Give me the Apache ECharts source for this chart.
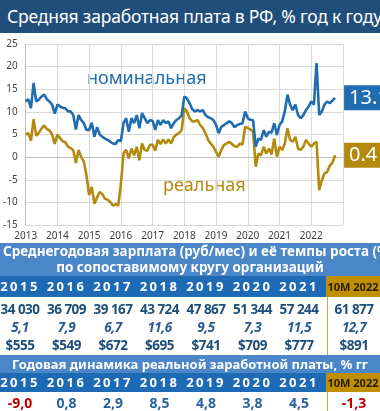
<!DOCTYPE html>
<html><head><meta charset="utf-8">
<script src="https://cdn.jsdelivr.net/npm/echarts@6/dist/echarts.min.js"></script>
<style>
html,body{margin:0;padding:0;background:#fff;}
body{width:380px;height:411px;overflow:hidden;position:relative;font-family:"Noto Sans",sans-serif;}
.abs{position:absolute;white-space:nowrap;}
#title{left:0;top:0;width:380px;height:33px;background:#1F4E7A;color:#fff;font-size:17.5px;line-height:33px;padding-left:7px;box-sizing:border-box;letter-spacing:-0.2px;}
#chart{left:0;top:33px;width:380px;height:210px;}
.band{left:0;width:380px;background:#4A86C8;color:#fff;font-weight:bold;}
.yrow{left:0;width:380px;background:#1E6AB4;}
.cell{position:absolute;text-align:center;width:48px;top:0;}
.gold{position:absolute;left:326px;width:54px;top:0;background:#BF8F00;color:#2b2000;font-weight:bold;font-size:11px;text-align:center;}
.sep{position:absolute;left:327px;width:1px;background:#C9A646;}
</style>
</head><body>
<div id="title" class="abs">Средняя заработная плата в РФ, % год к году</div>
<div id="chart" class="abs"></div>
<div id="band1" class="abs band" style="top:243px;height:33px;font-size:13.5px;">
  <div class="abs" style="left:3px;top:0px;line-height:17px;">Среднегодовая зарплата (руб/мес) и её темпы роста (% гг</div>
  <div class="abs" style="left:0;width:380px;text-align:center;top:16px;line-height:17px;">по сопоставимому кругу организаций</div>
</div>
<div id="hdr1" class="abs yrow" style="top:276px;height:21px;"></div>
<div id="rows1" class="abs" style="left:0;top:297px;width:380px;height:58px;"></div>
<div id="band2" class="abs band" style="top:355px;height:18px;font-size:13px;line-height:18px;text-align:center;">Годовая динамика реальной заработной платы, % гг</div>
<div id="hdr2" class="abs yrow" style="top:373px;height:19px;"></div>
<div id="rows2" class="abs" style="left:0;top:392px;width:380px;height:19px;"></div>
<script>
// ---- Data ----
const startYear = 2013;
const nominal = [
  12.3,12.8,10.8,16.4,12.3,12.7,13.4,13.8,12.8,12.3,11.6,9.6,
  11.6,11.2,10.9,10.8,10.1,10.1,9.3,6.1,9.3,8.2,7.5,6.0,
  6.0,7.6,4.5,6.6,5.0,4.5,4.1,3.8,3.4,3.0,2.9,3.8,
  3.5,7.5,8.6,5.6,8.6,7.5,9.3,6.4,9.7,8.6,7.5,8.2,
  8.0,6.0,8.2,7.1,8.2,7.5,7.9,6.4,7.5,8.2,8.6,9.3,
  13.4,13.0,11.9,10.6,10.1,10.4,10.1,10.4,9.3,8.8,8.6,8.2,
  7.1,5.3,6.7,7.1,7.5,7.9,7.5,6.6,7.1,7.3,7.5,10.1,
  8.6,8.2,8.2,2.3,4.1,3.8,6.0,4.5,5.6,5.4,7.5,4.9,
  7.1,7.9,10.1,13.8,11.6,10.4,11.6,9.3,8.6,9.3,10.4,11.2,
  12.3,11.6,20.8,9.3,10.1,11.6,12.3,11.9,12.5,13.1
];
const real = [
  5.0,5.3,3.6,8.4,4.7,5.4,6.3,7.0,6.2,5.9,5.0,2.9,
  5.0,4.2,3.5,3.3,2.3,2.0,1.5,-1.3,1.6,0.0,-1.0,-4.0,
  -8.4,-6.6,-10.3,-8.9,-7.7,-8.2,-9.2,-9.4,-9.9,-10.7,-10.4,-10.7,
  -6.1,0.8,1.6,-0.3,1.9,0.4,2.3,-0.7,3.0,1.6,1.4,2.7,
  2.8,1.4,3.8,2.9,3.9,3.0,3.9,3.0,4.4,5.0,5.3,6.0,
  10.8,10.1,8.6,7.9,7.9,8.2,7.1,6.4,5.3,3.8,3.0,2.3,
  1.1,0.1,1.6,2.7,3.0,3.4,2.9,2.4,2.3,3.0,2.8,6.7,
  6.4,6.1,5.6,-2.1,0.8,0.4,2.3,0.8,1.9,0.6,4.1,0.1,
  2.3,1.6,3.0,6.4,3.8,3.4,4.5,1.9,1.6,2.3,3.8,3.0,
  2.3,3.0,3.4,-7.3,-5.1,-3.6,-3.3,-1.9,-1.2,0.4
];
const yearTicks = [2013,2014,2015,2016,2017,2018,2019,2020,2021,2022];
const tableYears = ['2015','2016','2017','2018','2019','2020','2021'];
const lastPeriod = '10M 2022';
const wageRub = ['34 030','36 709','39 167','43 724','47 867','51 344','57 244'];
const wageRubLast = '61 877';
const wageGrowth = ['5,1','7,9','6,7','11,6','9,5','7,3','11,5'];
const wageGrowthLast = '12,7';
const wageUsd = ['$555','$549','$672','$695','$741','$709','$777'];
const wageUsdLast = '$891';
const realGrowth = ['-9,0','0,8','2,9','8,5','4,8','3,8','4,5'];
const realGrowthLast = '-1,3';
const labelNominal = 'номинальная';
const labelReal = 'реальная';

// ---- Chart ----
const BLUE = '#1F6DB0', GOLD = '#B38A0E';
const toPairs = arr => arr.map((v, i) => [startYear + i / 12, v]);
const chart = echarts.init(document.getElementById('chart'), null, {renderer: 'canvas'});
const endLab = (col) => ({
  show: true,
  formatter: p => p.value[1].toFixed(1),
  color: '#fff', backgroundColor: col, fontSize: 20, fontFamily: 'Noto Sans',
  padding: [1, 6, 1, 5], lineHeight: 23, distance: 9
});
chart.setOption({
  animation: false,
  textStyle: {fontFamily: 'Noto Sans'},
  grid: {left: 25, right: 37, top: 11, bottom: 18},
  xAxis: {
    type: 'value', min: 2013, max: 2023, interval: 1,
    axisLine: {show: true, lineStyle: {color: '#bfbfbf'}},
    axisTick: {show: false},
    splitLine: {show: true, lineStyle: {color: '#d9d9d9'}},
    axisLabel: {fontSize: 10, color: '#404040', margin: 6,
      formatter: v => yearTicks.indexOf(v) >= 0 ? String(v) : ''}
  },
  yAxis: {
    type: 'value', min: -15, max: 25, interval: 5,
    axisLine: {show: true, lineStyle: {color: '#bfbfbf'}},
    axisTick: {show: false},
    splitLine: {show: true, lineStyle: {color: '#d9d9d9'}},
    axisLabel: {fontSize: 10, color: '#404040', margin: 8}
  },
  graphic: [
    {type: 'text', left: 87, top: 37, style: {text: labelNominal, fill: BLUE, fontSize: 18, fontFamily: 'Noto Sans'}},
    {type: 'text', left: 163, top: 144, style: {text: labelReal, fill: GOLD, fontSize: 18, fontFamily: 'Noto Sans'}}
  ],
  series: [
    {type: 'line', data: toPairs(real), showSymbol: false, lineStyle: {color: GOLD, width: 2.6}, itemStyle: {color: GOLD}, endLabel: endLab(GOLD), clip: false},
    {type: 'line', data: toPairs(nominal), showSymbol: false, lineStyle: {color: BLUE, width: 2.6}, itemStyle: {color: BLUE}, endLabel: endLab(BLUE), clip: false}
  ]
});

// ---- Tables ----
const colCenter = i => 20 + i * 46.5;
function cell(txt, i, style) {
  const d = document.createElement('div');
  d.className = 'cell';
  d.style.left = (colCenter(i) - 24) + 'px';
  d.textContent = txt;
  Object.assign(d.style, style || {});
  return d;
}
function header(el, h) {
  tableYears.forEach((y, i) => el.appendChild(cell(y, i, {color: '#fff', fontWeight: 'bold', fontSize: '13px', letterSpacing: '2.5px', lineHeight: h + 'px', height: h + 'px'})));
  const g = document.createElement('div');
  g.className = 'gold'; g.style.height = h + 'px'; g.style.lineHeight = h + 'px';
  g.textContent = lastPeriod; el.appendChild(g);
}
header(document.getElementById('hdr1'), 21);
header(document.getElementById('hdr2'), 19);
const r1 = document.getElementById('rows1');
const numStyle = {fontWeight: 'bold', fontSize: '13.5px', letterSpacing: '-0.5px'};
const rowsDef = [
  {vals: wageRub, last: wageRubLast, top: 2, h: 20, st: Object.assign({color: '#1F4E79'}, numStyle)},
  {vals: wageGrowth, last: wageGrowthLast, top: 21, h: 18, st: Object.assign({color: '#2A5B8E', fontStyle: 'italic'}, numStyle)},
  {vals: wageUsd, last: wageUsdLast, top: 39, h: 19, st: Object.assign({color: '#1F4E79'}, numStyle)}
];
rowsDef.forEach(r => {
  r.vals.forEach((v, i) => r1.appendChild(cell(v, i, Object.assign({top: r.top + 'px', lineHeight: r.h + 'px'}, r.st))));
  const c = cell(r.last, 0, Object.assign({top: r.top + 'px', lineHeight: r.h + 'px'}, r.st));
  c.style.left = '330px'; r1.appendChild(c);
});
const s1 = document.createElement('div'); s1.className = 'sep'; s1.style.top = '0px'; s1.style.height = '58px'; r1.appendChild(s1);
const r2 = document.getElementById('rows2');
const vcol = v => v.trim().startsWith('-') ? '#C00000' : '#2A62A0';
realGrowth.forEach((v, i) => r2.appendChild(cell(v, i, {color: vcol(v), fontWeight: 'bold', fontSize: '14px', lineHeight: '21px'})));
const lc = cell(realGrowthLast, 0, {color: vcol(realGrowthLast), fontWeight: 'bold', fontSize: '14px', lineHeight: '21px'});
lc.style.left = '330px'; r2.appendChild(lc);
const s2 = document.createElement('div'); s2.className = 'sep'; s2.style.top = '0px'; s2.style.height = '19px'; r2.appendChild(s2);
</script>
</body></html>
